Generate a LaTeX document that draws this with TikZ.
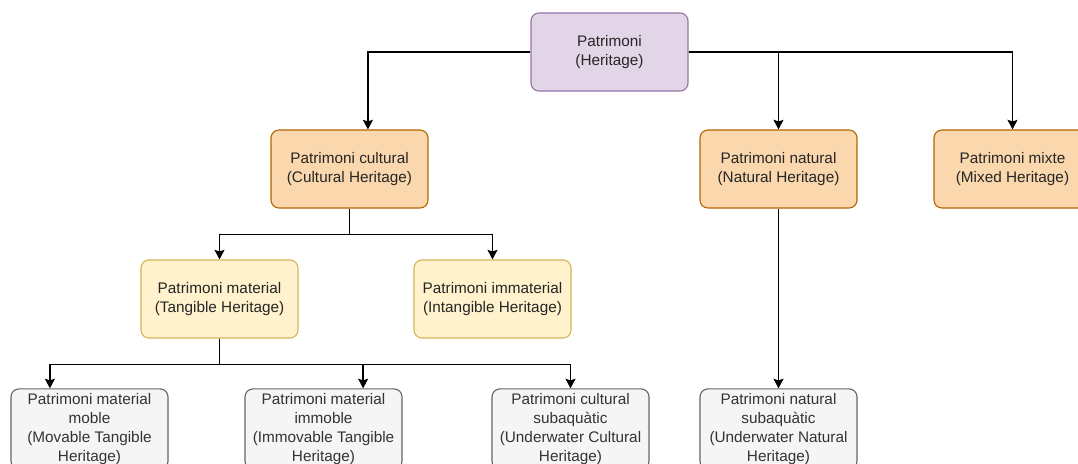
\documentclass[tikz,border=0pt]{standalone}
\usepackage{fontspec}
\setmainfont{Liberation Sans}
\usetikzlibrary{arrows.meta}

\definecolor{rootfill}{HTML}{E1D5E7}
\definecolor{rootline}{HTML}{9673A6}
\definecolor{mainfill}{HTML}{FAD7AC}
\definecolor{mainline}{HTML}{B46504}
\definecolor{subfill}{HTML}{FFF2CC}
\definecolor{subline}{HTML}{D6B656}
\definecolor{leaffill}{HTML}{F5F5F5}
\definecolor{leafline}{HTML}{666666}
\definecolor{leaftext}{HTML}{333333}

\tikzset{
    box/.style={draw, rounded corners=0.2cm, minimum width=3.925cm, minimum height=1.95cm,
        align=center, line width=0.8pt, text=black!85, font=\fontsize{10.9}{13.4}\selectfont},
    rootbox/.style={box, fill=rootfill, draw=rootline},
    mainbox/.style={box, fill=mainfill, draw=mainline},
    subbox/.style={box, fill=subfill, draw=subline},
    leafbox/.style={box, fill=leaffill, draw=leafline, text=leaftext},
    conn/.style={-{Stealth[length=0.24cm,width=0.25cm,inset=0.04cm]}, line width=0.9pt}
}

\begin{document}
\begin{tikzpicture}[x=0.025cm, y=-0.025cm]
    \useasboundingbox (0,0) rectangle (1078,464);
    \clip (0,0) rectangle (1078,464);
    % Top level
    \node[rootbox] (root) at (609.5,52) {Patrimoni\\(Heritage)};
    % Second row
    \node[mainbox] (cult) at (349.5,169) {Patrimoni cultural\\(Cultural Heritage)};
    \node[mainbox] (nat) at (778.5,169) {Patrimoni natural\\(Natural Heritage)};
    \node[mainbox] (mix) at (1012.5,169) {Patrimoni mixte\\(Mixed Heritage)};
    % Third row
    \node[subbox] (mat) at (219.5,299) {Patrimoni material\\(Tangible Heritage)};
    \node[subbox] (immat) at (492.5,299) {Patrimoni immaterial\\(Intangible Heritage)};
    % Bottom row
    \node[leafbox] (moble) at (89.5,429) {Patrimoni material\\moble\\(Movable Tangible\\Heritage)};
    \node[leafbox] (immoble) at (323.5,429) {Patrimoni material\\immoble\\(Immovable Tangible\\Heritage)};
    \node[leafbox] (subcult) at (570.5,429) {Patrimoni cultural\\subaquàtic\\(Underwater Cultural\\Heritage)};
    \node[leafbox] (subnat) at (778.5,429) {Patrimoni natural\\subaquàtic\\(Underwater Natural\\Heritage)};

    % Connectors
    \draw[conn] (root.west) -| ([xshift=0.46cm]cult.north);
    \draw[conn] (root.east) -| (mix.north);
    \draw[conn] (root.east -| nat.north) -- (nat.north);
    \draw[conn] (cult.south) -- ++(0,26) -| (mat.north);
    \draw[conn] (cult.south) -- ++(0,26) -| (immat.north);
    \draw[conn] (mat.south) -- ++(0,26) -| ([xshift=-0.99cm]moble.north);
    \draw[conn] (mat.south) -- ++(0,26) -| ([xshift=0.99cm]immoble.north);
    \draw[conn] (mat.south) -- ++(0,26) -| (subcult.north);
    \draw[conn] (nat.south) -- (subnat.north);
\end{tikzpicture}
\end{document}
